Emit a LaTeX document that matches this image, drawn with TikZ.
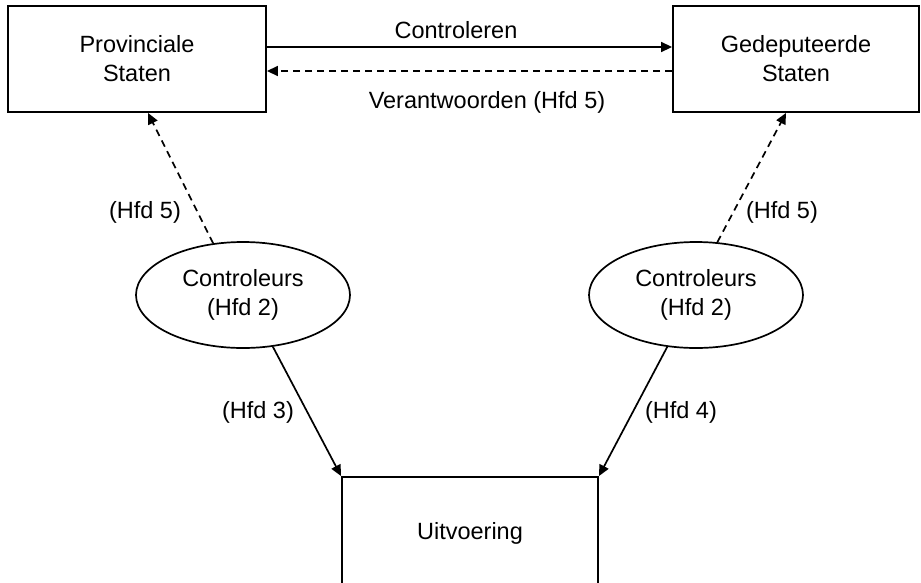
\documentclass[tikz,border=0pt]{standalone}
\usepackage{fontspec}
\setmainfont{Liberation Sans}
\usetikzlibrary{arrows.meta,shapes.geometric}
\tikzset{
  boxnode/.style={draw,line width=1.9pt,rectangle,align=center,inner sep=0pt},
  ellnode/.style={draw,line width=1.7pt,ellipse,align=center,inner sep=0pt,minimum width=214pt,minimum height=106pt},
  conn/.style={line width=1.7pt,-{Triangle[length=11pt,width=10pt]}},
  dconn/.style={conn,dash pattern=on 7pt off 5pt},
  lbl/.style={inner sep=0pt,align=center}
}
\begin{document}
\begin{tikzpicture}[x=1pt,y=-1pt,font=\fontsize{23.5}{29}\selectfont]
\clip (0,0) rectangle (921,582);
\fill[white] (0,0) rectangle (921,582);
\node[boxnode,minimum width=258pt,minimum height=106pt] (A) at (137,59) {Provinciale\\Staten};
\node[boxnode,minimum width=246pt,minimum height=106pt] (B) at (796,59) {Gedeputeerde\\Staten};
\node[boxnode,minimum width=256pt,minimum height=112pt] (U) at (470,533) {Uitvoering};
\node[ellnode] (L) at (243,295) {Controleurs\\(Hfd 2)};
\node[ellnode] (R) at (696,295) {Controleurs\\(Hfd 2)};
\draw[conn] ([yshift=12pt]A.east) -- ([yshift=12pt]B.west);
\draw[dconn] ([yshift=-12pt]B.west) -- ([yshift=-12pt]A.east);
\draw[dconn] (L.120) -- ([xshift=11pt]A.south);
\draw[dconn] (R.68) -- ([xshift=-10pt]B.south);
\draw[conn] (L.-60) -- (U.north west);
\draw[conn] (R.-119) -- (U.north east);
\node[lbl] (t1) at (456,30) {Controleren};
\node[lbl] (t2) at (487,102) {Verantwoorden (Hfd 5)};
\node[lbl] (t3) at (145,212) {(Hfd 5)};
\node[lbl] (t4) at (782,212) {(Hfd 5)};
\node[lbl] (t5) at (258,412) {(Hfd 3)};
\node[lbl] (t6) at (681,412) {(Hfd 4)};
\end{tikzpicture}
\end{document}
